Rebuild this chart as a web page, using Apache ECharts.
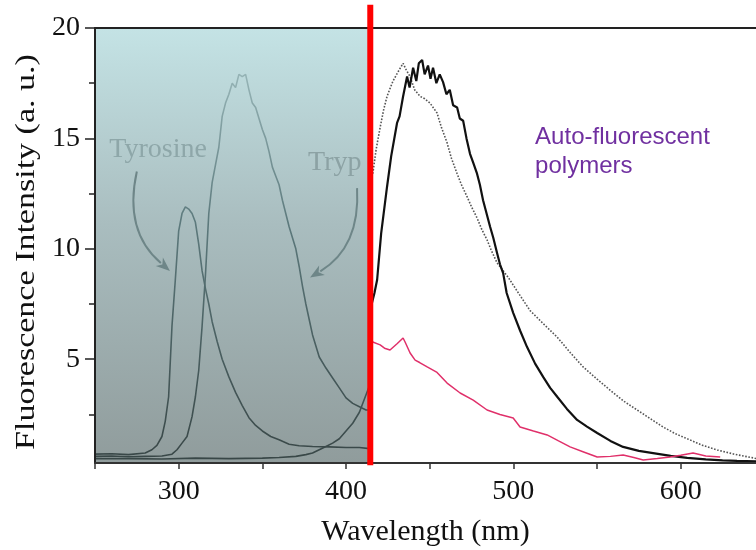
<!DOCTYPE html>
<html>
<head>
<meta charset="utf-8">
<script src="https://cdn.jsdelivr.net/npm/echarts@6/dist/echarts.min.js"></script>
<style>html,body{margin:0;padding:0;background:#fff}#c{width:756px;height:550px}</style>
</head>
<body>
<div id="c"></div>
<script>
// ---- data ----
const xMin = 250, xMax = 645, yMin = 0.3, yMax = 20;
const yMajorTicks = [5, 10, 15, 20];
const yMinorTicks = [2.5, 7.5, 12.5, 17.5];
const divider = 414.5;            // wavelength of red separator
const dividerRange = [0.2, 21.05];

const tyrWl = [250,260,270,280,284,287,290,292,294,296,298,300,302,304,306,308,310,312,314,316,318,320,323,326,330,334,338,342,346,350,355,360,366,372,380,390,400,408,414];
const tyrVal = [0.7,0.72,0.68,0.75,0.9,1.1,1.5,2.2,3.3,6.5,8.6,10.8,11.6,11.9,11.8,11.6,11.2,10.2,9.0,8.2,7.5,6.7,5.8,5.0,4.2,3.5,2.9,2.35,2.0,1.75,1.5,1.35,1.15,1.08,1.05,1.03,1.0,1.0,0.95];

const trpWl = [250,260,270,280,290,296,299,302,305,308,310,312,314,316,318,320,322,324,326,328,330,332,334,336,338,340,342,344,346,348,350,352,354,356,358,360,362,364,366,368,370,372,374,376,378,380,384,388,392,396,400,404,408,412,414];
const trpVal = [0.6,0.62,0.58,0.6,0.62,0.7,0.9,1.2,1.5,2.4,3.3,4.5,6.5,8.8,11.6,13.0,13.8,14.6,16.0,16.6,17.0,17.5,17.3,17.9,17.8,17.9,17.2,16.6,16.4,15.9,15.4,15.0,14.4,13.7,13.3,12.9,12.2,11.6,11.0,10.5,10.0,9.2,8.3,7.5,6.8,6.1,5.1,4.6,4.15,3.7,3.25,3.0,2.85,2.7,2.7];

const thirdWl = [250,270,290,310,330,350,360,370,376,380,384,388,392,396,400,404,408,411,414];
const thirdVal = [0.5,0.5,0.48,0.52,0.5,0.52,0.55,0.6,0.68,0.75,0.9,1.05,1.2,1.4,1.75,2.1,2.6,3.2,3.8];

const solidWl = [415,417,418.6,421,424.5,427,430.5,432,434.1,436.5,438,440.1,442,443.5,445.5,447,449,450.5,452,454,456,458,460,462,464,466.4,468,470,472,474.1,476,478.3,480,481.9,484,486.1,488,490.3,492,493.9,496,499.9,504,508.2,513,517.8,522,526.2,532,538.1,544,550.1,558,565.6,575,583.5,594,603.9,615,625,633.7,645];
const solidVal = [7.4,8.0,8.6,10.7,12.8,14.2,15.7,16.0,16.9,17.8,17.3,18.2,17.6,18.4,18.55,17.9,18.3,17.7,18.2,17.5,17.9,17.55,17.0,17.2,16.5,16.4,15.9,15.8,15.0,14.3,13.9,13.4,12.9,12.2,11.6,11.0,10.5,9.8,9.3,8.9,8.0,7.1,6.3,5.55,4.8,4.2,3.7,3.3,2.75,2.25,1.95,1.66,1.3,1.03,0.85,0.75,0.62,0.53,0.46,0.42,0.4,0.38];

const dotWl = [416,418,420.4,422.5,424.5,426.5,428.1,431,434.1,436,438.3,441,444.3,447,450.2,454.4,457,460.4,463,466.4,469,472.4,475,478.3,481,484.3,487,490.3,494,497,503,510,518,526.2,534,541.7,550,557.8,566,574,582,589.5,597,605.7,613,621.8,632,643.3,645];
const dotVal = [13.4,14.5,15.5,16.3,16.9,17.3,17.6,18.0,18.4,18.1,17.8,17.2,16.9,16.8,16.6,16.15,15.5,14.8,14.1,13.4,12.9,12.35,11.9,11.4,10.9,10.4,9.9,9.36,9.0,8.7,8.0,7.2,6.6,6.0,5.3,4.65,4.1,3.6,3.1,2.7,2.3,1.93,1.62,1.34,1.1,0.89,0.7,0.53,0.5];

const pinkWl = [416,420.4,423,426.3,430.5,434.1,435.3,438.3,441.3,444,448.5,454.4,460.4,468.2,476,484.3,492,499.9,504,512,520.2,527,533.9,542,550.1,558,565.6,572,577.6,586,593.7,600,607.4,615,623.6];
const pinkVal = [5.78,5.65,5.5,5.42,5.7,5.96,5.78,5.28,4.96,4.85,4.65,4.4,3.92,3.47,3.15,2.7,2.5,2.34,1.93,1.75,1.57,1.3,1.03,0.8,0.57,0.6,0.66,0.55,0.44,0.5,0.57,0.65,0.75,0.62,0.57];

// annotation anchors (data coordinates): [x0, y0, x1, y1, curveness]
const arrows = [
  [275, 13.5, 294.8, 9.0, -0.3],
  [406.6, 12.75, 378.5, 8.7, 0.3]
];
const tyrLabelPos = [287.7, 14.5];
const trpLabelPos = [377.3, 13.9];
const polyLabelPos = [513, 15.7];

// ---- chart ----
const pairs = (xs, ys) => xs.map((x, i) => [x, ys[i]]);
const chart = echarts.init(document.getElementById('c'), null, {renderer: 'canvas'});
const serif = 'Liberation Serif';
const fadeStroke = new echarts.graphic.LinearGradient(0, 28, 0, 463, [
  {offset: 0, color: '#a3c3c5'},
  {offset: 0.12, color: '#93b1b3'},
  {offset: 0.45, color: '#5c797c'},
  {offset: 1, color: '#384646'}
], true);
const bgFill = new echarts.graphic.LinearGradient(0, 0, 0, 1, [
  {offset: 0, color: '#c4e3e5'},
  {offset: 0.45, color: '#a9bdbf'},
  {offset: 1, color: '#909c9c'}
]);

const option = {
  animation: false,
  backgroundColor: '#fff',
  grid: {left: 95, right: 0, top: 28, bottom: 87, containLabel: false, outerBoundsMode: 'none'},
  xAxis: [{
    type: 'value', min: xMin, max: xMax, interval: 50, position: 'bottom',
    axisLine: {show: true, onZero: false, lineStyle: {color: '#333', width: 2}},
    axisTick: {show: true, length: 6, lineStyle: {color: '#333', width: 1.5}},
    axisLabel: {fontFamily: serif, fontSize: 28, color: '#111', margin: 15,
      showMinLabel: true, showMaxLabel: false,
      formatter: v => (v % 100 === 0 ? String(v) : '')},
    splitLine: {show: false},
    name: 'Wavelength (nm)', nameLocation: 'middle', nameGap: 54,
    nameTextStyle: {fontFamily: serif, fontSize: 30, color: '#111'},
    z: 10
  }, {
    type: 'value', min: xMin, max: xMax, position: 'top',
    axisLine: {show: true, onZero: false, lineStyle: {color: '#222', width: 2}},
    axisTick: {show: false}, axisLabel: {show: false}, splitLine: {show: false}, z: 10
  }],
  yAxis: [{
    type: 'value', min: yMin, max: yMax, position: 'left',
    axisLine: {show: true, onZero: false, lineStyle: {color: '#222', width: 2}},
    axisTick: {show: true, length: 10, customValues: yMajorTicks, lineStyle: {color: '#222', width: 1.5}},
    axisLabel: {fontFamily: serif, fontSize: 28, color: '#111', margin: 15, customValues: yMajorTicks},
    splitLine: {show: false}, z: 10
  }, {
    type: 'value', min: yMin, max: yMax, position: 'left',
    axisLine: {show: false},
    axisTick: {show: true, length: 6, customValues: yMinorTicks, lineStyle: {color: '#222', width: 1.5}},
    axisLabel: {show: false}, splitLine: {show: false}, z: 10
  }],
  series: [
    {
      name: 'Third', type: 'line', data: pairs(thirdWl, thirdVal), showSymbol: false, symbol: 'none',
      lineStyle: {color: fadeStroke, width: 1.6}, z: 2,
      markArea: {silent: true, z: 1, itemStyle: {color: bgFill},
        data: [[{coord: [xMin, yMax]}, {coord: [divider, yMin]}]]}
    },
    {
      name: 'Tyrosine', type: 'line', data: pairs(tyrWl, tyrVal), showSymbol: false, symbol: 'none',
      lineStyle: {color: fadeStroke, width: 1.6}, z: 2
    },
    {
      name: 'Tryptophan', type: 'line', data: pairs(trpWl, trpVal), showSymbol: false, symbol: 'none',
      lineStyle: {color: fadeStroke, width: 1.6}, z: 2
    },
    {
      name: 'Polymer dotted', type: 'line', data: pairs(dotWl, dotVal), showSymbol: false, symbol: 'none',
      lineStyle: {color: '#555', width: 1.6, type: 'dotted'}, z: 3
    },
    {
      name: 'Polymer solid', type: 'line', data: pairs(solidWl, solidVal), showSymbol: false, symbol: 'none',
      lineStyle: {color: '#111', width: 2.2}, z: 4
    },
    {
      name: 'Polymer pink', type: 'line', data: pairs(pinkWl, pinkVal), showSymbol: false, symbol: 'none',
      lineStyle: {color: '#e0306a', width: 1.5}, z: 4
    },
    {
      name: 'Arrows', type: 'custom', coordinateSystem: 'cartesian2d', clip: false, z: 6, silent: true,
      encode: {x: [0, 2], y: [1, 3]},
      data: arrows,
      renderItem: (params, api) => {
        const p0 = api.coord([api.value(0), api.value(1)]);
        const p1 = api.coord([api.value(2), api.value(3)]);
        const c = api.value(4);
        const cp = [(p0[0] + p1[0]) / 2 - (p0[1] - p1[1]) * c, (p0[1] + p1[1]) / 2 - (p1[0] - p0[0]) * c];
        let dx = p1[0] - cp[0], dy = p1[1] - cp[1];
        const len = Math.hypot(dx, dy); dx /= len; dy /= len;
        const L = 14, W = 5.5;
        const base = [p1[0] - dx * L, p1[1] - dy * L];
        const color = '#6e8688';
        return {type: 'group', children: [
          {type: 'bezierCurve', shape: {x1: p0[0], y1: p0[1], x2: base[0] + dx * 2, y2: base[1] + dy * 2, cpx1: cp[0], cpy1: cp[1]},
            style: {stroke: color, lineWidth: 2, fill: null}},
          {type: 'polygon', shape: {points: [p1, [base[0] - dy * W, base[1] + dx * W], [base[0] + dx * 4, base[1] + dy * 4], [base[0] + dy * W, base[1] - dx * W]]},
            style: {fill: color}}
        ]};
      }
    },
    {
      name: 'Divider', type: 'custom', coordinateSystem: 'cartesian2d', clip: false, z: 20, silent: true,
      encode: {x: 0, y: [1, 2]},
      data: [[divider, dividerRange[0], dividerRange[1]]],
      renderItem: (params, api) => {
        const p0 = api.coord([api.value(0), api.value(1)]);
        const p1 = api.coord([api.value(0), api.value(2)]);
        return {type: 'line', shape: {x1: p0[0], y1: p0[1], x2: p1[0], y2: p1[1]},
          style: {stroke: '#ff0000', lineWidth: 6}};
      }
    }
  ]
};
chart.setOption(option);

const px = p => chart.convertToPixel({xAxisIndex: 0, yAxisIndex: 0}, p);
const tp = px(tyrLabelPos), rp = px(trpLabelPos), pp = px(polyLabelPos);
chart.setOption({
  graphic: [
    {type: 'text', x: tp[0], y: tp[1], z: 30, silent: true,
      style: {text: 'Tyrosine', font: '28px "Liberation Serif"', fill: '#8ea7a9', align: 'center', verticalAlign: 'middle'}},
    {type: 'text', x: rp[0], y: rp[1], z: 30, silent: true,
      style: {text: 'Tryp', font: '28px "Liberation Serif"', fill: '#8ca2a4', align: 'left', verticalAlign: 'middle'}},
    {type: 'text', x: pp[0], y: pp[1], z: 30, silent: true,
      style: {text: 'Auto-fluorescent\npolymers', font: '24px "Liberation Sans"', lineHeight: 29, fill: '#7030a0', align: 'left', verticalAlign: 'top'}},
    {type: 'text', x: 27, y: 252, rotation: Math.PI / 2, scaleX: 1.26, z: 30, silent: true,
      style: {text: 'Fluorescence Intensity (a. u.)', font: '27px "Liberation Serif"', fill: '#111', align: 'center', verticalAlign: 'middle'}}
  ]
});
</script>
</body>
</html>
